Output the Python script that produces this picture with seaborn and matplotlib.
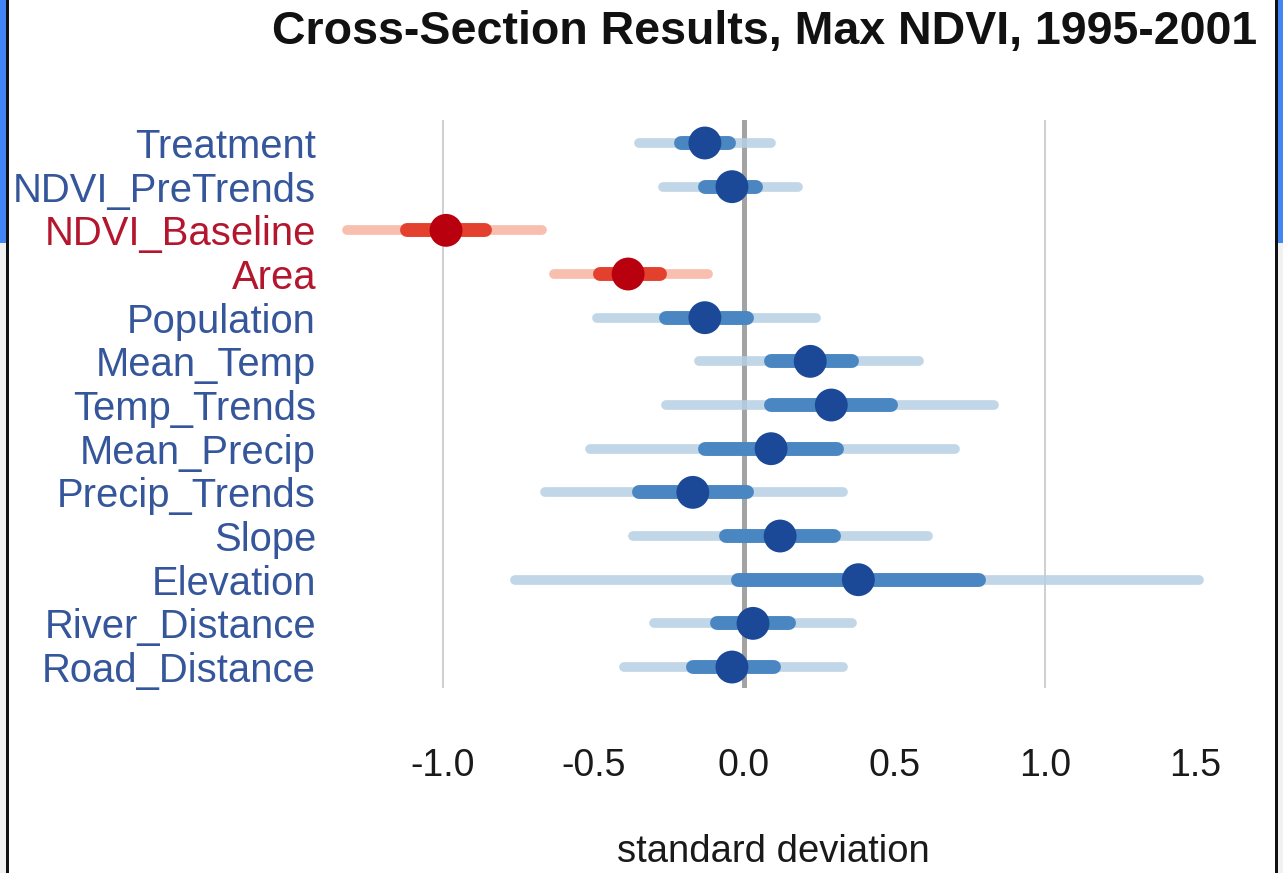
import numpy as np
import pandas as pd
import matplotlib
matplotlib.use("Agg")
import matplotlib.pyplot as plt
from matplotlib.patches import Rectangle
import seaborn as sns

# ---------------- data ----------------
variables = ["Treatment", "NDVI_PreTrends", "NDVI_Baseline", "Area", "Population",
             "Mean_Temp", "Temp_Trends", "Mean_Precip", "Precip_Trends", "Slope",
             "Elevation", "River_Distance", "Road_Distance"]
estimate = [-0.13, -0.04, -0.99, -0.385, -0.13, 0.22, 0.29, 0.09, -0.17, 0.12, 0.38, 0.03, -0.04]
inner_lo = [-0.21, -0.13, -1.12, -0.48, -0.26, 0.09, 0.09, -0.13, -0.35, -0.06, -0.02, -0.09, -0.17]
inner_hi = [-0.05, 0.04, -0.86, -0.28, 0.01, 0.36, 0.49, 0.31, 0.01, 0.30, 0.78, 0.15, 0.10]
outer_lo = [-0.35, -0.27, -1.32, -0.63, -0.49, -0.15, -0.26, -0.51, -0.66, -0.37, -0.76, -0.30, -0.40]
outer_hi = [0.09, 0.18, -0.67, -0.12, 0.24, 0.58, 0.83, 0.70, 0.33, 0.61, 1.51, 0.36, 0.33]
x_ticks = [-1.0, -0.5, 0.0, 0.5, 1.0, 1.5]
x_tick_labels = ["-1.0", "-0.5", "0.0", "0.5", "1.0", "1.5"]
title = "Cross-Section Results, Max NDVI, 1995-2001"
x_label = "standard deviation"

df = pd.DataFrame({"variable": variables, "estimate": estimate,
                   "inner_lo": inner_lo, "inner_hi": inner_hi,
                   "outer_lo": outer_lo, "outer_hi": outer_hi})
df["pos"] = np.arange(len(df))
df["sig"] = np.where((df["outer_hi"] < 0) | (df["outer_lo"] > 0), "sig", "ns")

# ---------------- style ----------------
sns.set_theme(style="white")
plt.rcParams["font.family"] = ["Liberation Sans", "DejaVu Sans"]

W, H = 1283, 873
fig = plt.figure(figsize=(W / 100, H / 100), dpi=100)
fig.patch.set_facecolor("white")

def fx(px):
    return px / W

def fy(py):
    return 1 - py / H

# axes placement (pixels)
L, R, T, B = 330, 1250, 120, 688
ax = fig.add_axes([fx(L), fy(B), fx(R) - fx(L), fy(T) - fy(B)])
ax.set_facecolor("white")

x0px, unit = 744, 301
ax.set_xlim((L - x0px) / unit, (R - x0px) / unit)
row0, step = 143, 43.67
ax.set_ylim((B - row0) / step, (T - row0) / step)

colors = {
    "ns": {"outer": "#b7cfe3", "inner": "#4a86c2", "point": "#1b4897", "label": "#35569b"},
    "sig": {"outer": "#f7b3a0", "inner": "#e4402e", "point": "#b8000f", "label": "#b3162d"},
}

# grid lines
for v in (-1.0, 1.0):
    ax.axvline(v, color="#cbcbcb", lw=1.3, zorder=1)
ax.axvline(0.0, color="#a3a3a3", lw=3.6, zorder=1)

# intervals
for _, r in df.iterrows():
    c = colors[r["sig"]]
    ax.plot([r["outer_lo"], r["outer_hi"]], [r["pos"], r["pos"]], color=c["outer"],
            lw=7.0, solid_capstyle="round", alpha=0.85, zorder=2)
    ax.plot([r["inner_lo"], r["inner_hi"]], [r["pos"], r["pos"]], color=c["inner"],
            lw=10.0, solid_capstyle="round", zorder=3)

# points
sns.scatterplot(data=df, x="estimate", y="pos", hue="sig",
                palette={k: v["point"] for k, v in colors.items()},
                s=560, linewidth=0, legend=False, ax=ax, zorder=4)

# axes cosmetics
for sp in ax.spines.values():
    sp.set_visible(False)
ax.grid(False)
ax.set_yticks(df["pos"])
ax.set_yticklabels(df["variable"], fontsize=28.8)
for lab, s in zip(ax.get_yticklabels(), df["sig"]):
    lab.set_color(colors[s]["label"])
ax.set_xticks(x_ticks)
ax.set_xticklabels(x_tick_labels, fontsize=27, color="#1a1a1a")
ax.tick_params(axis="x", length=0, pad=43)
ax.tick_params(axis="y", length=0, pad=10)
ax.set_ylabel("")
ax.set_xlabel(x_label, fontsize=27.5, color="#1a1a1a")
ax.xaxis.set_label_coords((773 - L) / (R - L), (B - 852) / (B - T))
ax.xaxis.label.set_verticalalignment("center")

# title
fig.text(fx(765), fy(32), title, ha="center", va="center",
         fontsize=33.5, fontweight="bold", color="#111111")

# screenshot frame decorations
blue, gray = "#4285f4", "#f1f1f1"
def rect(x0, y0, x1, y1, color):
    fig.patches.append(Rectangle((fx(x0), fy(y1)), fx(x1) - fx(x0), fy(y0) - fy(y1),
                                 transform=fig.transFigure, color=color, zorder=0, lw=0))
rect(0, 0, 6, 243, blue)
rect(0, 243, 6, H, gray)
rect(6, 0, 9, H, "#111111")
rect(1278, 0, W, 243, blue)
rect(1278, 243, W, H, gray)
rect(1275, 0, 1278, H, "#111111")

fig.savefig("out.png", dpi=100)
